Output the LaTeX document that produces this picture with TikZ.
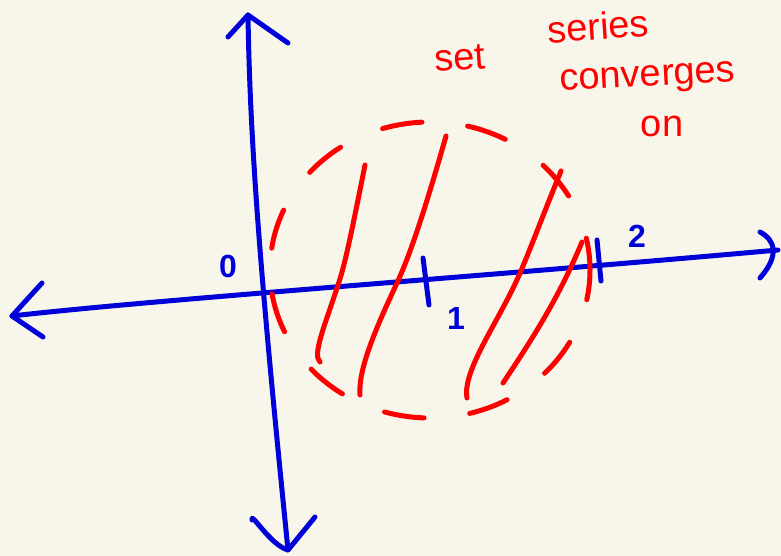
\documentclass[tikz,border=0pt]{standalone}
\usepackage{fontspec}
\setmainfont{Liberation Sans}
\usetikzlibrary{calc}
\definecolor{paper}{HTML}{F8F6EA}
\definecolor{pen}{HTML}{0000D8}
\definecolor{ink}{HTML}{FF0000}

\begin{document}
\begin{tikzpicture}[x=1pt, y=-1pt,
  axis/.style={draw=pen, line width=5pt, line cap=round, line join=round},
  region/.style={draw=ink, line width=5pt, line cap=round, line join=round},
  num/.style={text=pen, inner sep=0pt, font=\fontsize{32}{32}\selectfont\bfseries},
  note/.style={text=ink, inner sep=0pt, font=\fontsize{38}{38}\selectfont}
]
  \fill[paper] (0,0) rectangle (781,556);
  \useasboundingbox (0,0) rectangle (781,556);

  % real axis
  \coordinate (xl) at (12,316);
  \coordinate (xr) at (778,250);
  \draw[axis] (xl) .. controls (150,300) and (500,275) .. (xr);
  \draw[axis] (42,283) -- (xl) -- (43,337);
  \draw[axis] (760,232) .. controls (775,240) and (780,255) .. (760,278);

  % imaginary axis
  \coordinate (yt) at (248,15);
  \coordinate (yb) at (288,550);
  \draw[axis] (yt) .. controls (250,150) and (262,292) .. (yb);
  \draw[axis] (228,37) -- (yt) -- (288,43);
  \draw[axis] (252,520) .. controls (250,510) and (270,545) .. (yb) -- (315,517);

  % ticks
  \draw[axis] (423,258) -- (429,305);
  \draw[axis] (597,240) -- (601,281);
  \node[num] (zero) at (228,266) {0};
  \node[num] (one) at (456,318) {1};
  \node[num] (two) at (637,236) {2};

  % dashed disc
  \draw[region, dash pattern=on 40pt off 46pt, dash phase=10pt]
    (430,270) ellipse [x radius=160, y radius=148];

  % hatching
  \draw[region] (365,165) .. controls (352,230) and (345,265) .. (338,285)
    .. controls (325,325) and (312,355) .. (320,362);
  \draw[region] (446,136) .. controls (425,210) and (410,255) .. (397,283)
    .. controls (375,330) and (358,370) .. (360,395);
  \draw[region] (561,171) .. controls (545,210) and (530,250) .. (520,273)
    .. controls (500,320) and (462,370) .. (467,398);
  \draw[region] (582,242) .. controls (560,295) and (535,335) .. (503,383);

  % caption
  \node[note, rotate=4] (set) at (460,58) {set};
  \node[note, rotate=4] (series) at (598,26) {series};
  \node[note, rotate=3] (conv) at (648,80) {converges};
  \node[note] (on) at (662,126) {on};
\end{tikzpicture}
\end{document}
